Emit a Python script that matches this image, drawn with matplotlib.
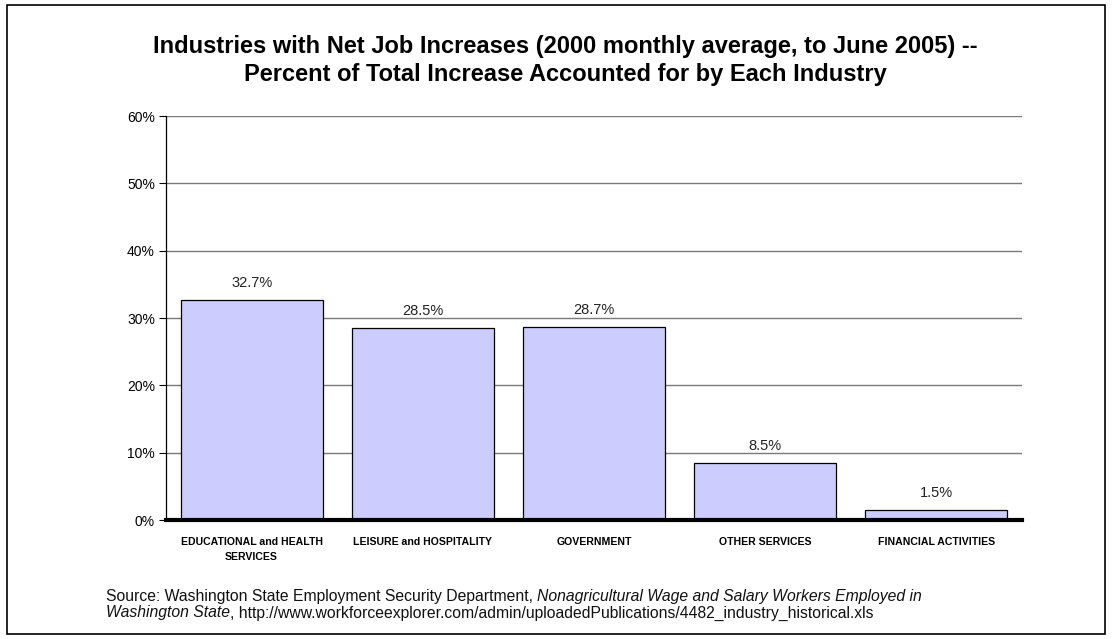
import matplotlib
matplotlib.use('Agg')
import matplotlib.pyplot as plt
from matplotlib.patches import Rectangle
from matplotlib.ticker import PercentFormatter

# data
industries = ['EDUCATIONAL and HEALTH\nSERVICES', 'LEISURE and HOSPITALITY',
              'GOVERNMENT', 'OTHER SERVICES', 'FINANCIAL ACTIVITIES']
shares = [32.7, 28.5, 28.7, 8.5, 1.5]
value_labels = ['32.7%', '28.5%', '28.7%', '8.5%', '1.5%']
yticks = [0, 10, 20, 30, 40, 50, 60]

plt.rcParams['font.family'] = ['Liberation Sans', 'DejaVu Sans']

fig = plt.figure(figsize=(11.12, 6.39), dpi=100)
fig.patch.set_facecolor('white')

# outer frame around the whole chart
fig.patches.append(Rectangle((0.006, 0.008), 0.988, 0.984, transform=fig.transFigure,
                             fill=False, edgecolor='black', linewidth=1.2))

ax = fig.add_axes([0.1493, 0.1862, 0.7698, 0.6322])
x = range(len(shares))
ax.bar(x, shares, width=0.83, color='#CCCCFF', edgecolor='black', linewidth=0.9, zorder=3)

for xi, v, lab in zip(x, shares, value_labels):
    ax.annotate(lab, (xi, v), xytext=(0, 7), textcoords='offset points',
                ha='center', va='bottom', fontsize=10.5, color='#222222')

ax.set_xlim(-0.5, len(shares) - 0.5)
ax.set_ylim(0, 60)
ax.set_yticks(yticks)
ax.yaxis.set_major_formatter(PercentFormatter(100, decimals=0))
ax.grid(axis='y', color='#7a7a7a', linewidth=1.0, zorder=0)
ax.set_axisbelow(True)

ax.set_xticks(list(x))
ax.set_xticklabels(industries, fontsize=7.6, fontweight='bold', linespacing=1.7)
ax.tick_params(axis='x', length=0, pad=12)
ax.tick_params(axis='y', length=5, width=0.8, labelsize=10, pad=3)

for s in ['top', 'right']:
    ax.spines[s].set_visible(False)
ax.spines['left'].set_linewidth(0.9)
ax.spines['bottom'].set_linewidth(3)
ax.spines['bottom'].set_zorder(4)

fig.text(0.508, 1 - 47 / 639, 'Industries with Net Job Increases (2000 monthly average, to June 2005) --',
         ha='center', va='center', fontsize=17, fontweight='bold')
fig.text(0.508, 1 - 75 / 639, 'Percent of Total Increase Accounted for by Each Industry',
         ha='center', va='center', fontsize=17, fontweight='bold')

# source note with mixed italic pieces placed one after another
fig.canvas.draw()
renderer = fig.canvas.get_renderer()
lines = [
    [('Source: Washington State Employment Security Department, ', 'normal'),
     ('Nonagricultural Wage and Salary Workers Employed in', 'italic')],
    [('Washington State', 'italic'),
     (', http://www.workforceexplorer.com/admin/uploadedPublications/4482_industry_historical.xls', 'normal')],
]
y_pos = [597, 613]
for parts, yp in zip(lines, y_pos):
    xp = 106
    for txt, style in parts:
        t = fig.text(xp / 1112, 1 - yp / 639, txt, ha='left', va='center',
                     fontsize=11.3, style=style, color='#111111')
        bb = t.get_window_extent(renderer)
        xp += bb.width

fig.savefig('out.png', dpi=100, facecolor='white')
